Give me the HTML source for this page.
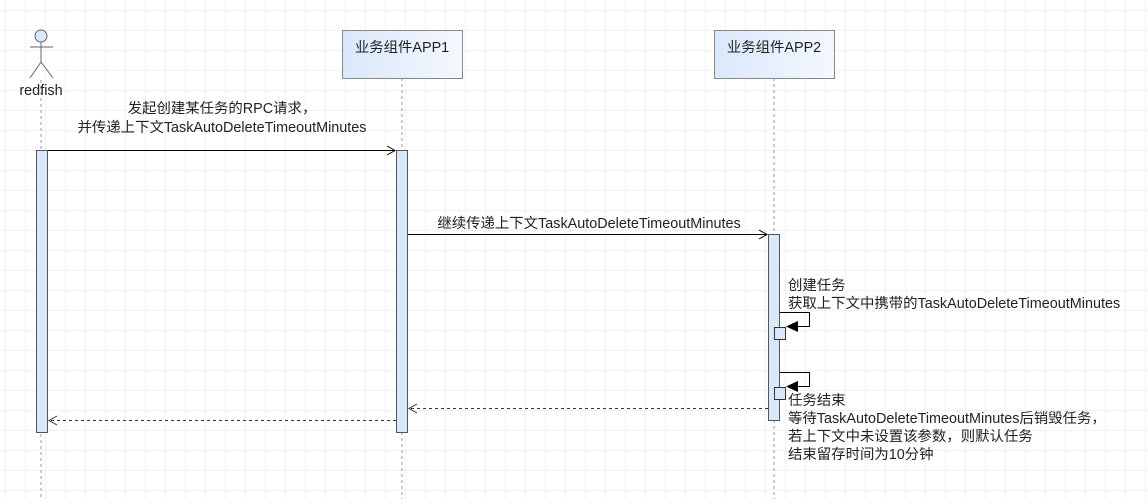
<!DOCTYPE html>
<html><head><meta charset="utf-8"><style>
html,body{margin:0;padding:0;background:#fff}
svg text{font-family:"Liberation Sans","Noto Sans CJK SC",sans-serif;font-size:14.4px;fill:#222}
</style></head><body>
<svg width="1148" height="499" xmlns="http://www.w3.org/2000/svg">
<defs>
<pattern id="g" width="20" height="20" patternUnits="userSpaceOnUse" x="5" y="10">
<path d="M20 0H0V20" fill="none" stroke="#e6e6e6" stroke-width="1"/>
</pattern>
<linearGradient id="bx" x1="0" y1="0" x2="1" y2="0"><stop offset="0" stop-color="#dae8fc"/><stop offset="1" stop-color="#f4f8fe"/></linearGradient>
</defs>
<rect width="1148" height="499" fill="url(#g)"/>
<g stroke="#999" stroke-dasharray="3,3" fill="none">
<line x1="41" y1="80" x2="41" y2="499"/>
<line x1="402" y1="78" x2="402" y2="499"/>
<line x1="774" y1="78" x2="774" y2="499"/>
</g>
<g stroke="#666" fill="none" stroke-width="1">
<circle cx="41" cy="36" r="6" fill="#dae8fc"/>
<line x1="41" y1="42" x2="41" y2="62"/>
<line x1="30" y1="47" x2="53" y2="47"/>
<line x1="41" y1="62" x2="30" y2="78"/>
<line x1="41" y1="62" x2="53" y2="78"/>
</g>
<text x="41" y="95" text-anchor="middle">redfish</text>
<rect x="342.5" y="30.5" width="120" height="48" fill="url(#bx)" stroke="#888"/>
<text x="402" y="52" text-anchor="middle">业务组件APP1</text>
<rect x="714.5" y="30.5" width="120" height="48" fill="url(#bx)" stroke="#888"/>
<text x="774" y="52" text-anchor="middle">业务组件APP2</text>
<g fill="#dae8fc" stroke="#555">
<rect x="36.5" y="150.5" width="11" height="282"/>
<rect x="396.5" y="150.5" width="11" height="282"/>
<rect x="768.5" y="234.5" width="11" height="186"/>
</g>
<text x="222" y="113" text-anchor="middle">发起创建某任务的RPC请求，</text>
<text x="222" y="132" text-anchor="middle">并传递上下文TaskAutoDeleteTimeoutMinutes</text>
<line x1="48" y1="150.5" x2="395" y2="150.5" stroke="#000"/>
<path d="M387 146L395 150.5L387 155" fill="none" stroke="#000"/>
<text x="589" y="228" text-anchor="middle">继续传递上下文TaskAutoDeleteTimeoutMinutes</text>
<line x1="408" y1="234.5" x2="767" y2="234.5" stroke="#000"/>
<path d="M759 230L767 234.5L759 239" fill="none" stroke="#000"/>
<path d="M780 312.5H809.5V326.5H788" fill="none" stroke="#000"/>
<path d="M786 326.5L798 321V332Z" fill="#000"/>
<rect x="774.5" y="327.5" width="11" height="12" fill="#dae8fc" stroke="#333"/>
<text x="788" y="290">创建任务</text>
<text x="788" y="308">获取上下文中携带的TaskAutoDeleteTimeoutMinutes</text>
<path d="M780 372.5H809.5V386.5H788" fill="none" stroke="#000"/>
<path d="M786 386.5L798 381V392Z" fill="#000"/>
<rect x="774.5" y="387.5" width="11" height="12" fill="#dae8fc" stroke="#333"/>
<text x="788" y="405">任务结束</text>
<text x="788" y="423">等待TaskAutoDeleteTimeoutMinutes后销毁任务，</text>
<text x="788" y="441">若上下文中未设置该参数，则默认任务</text>
<text x="788" y="459">结束留存时间为10分钟</text>
<line x1="768" y1="408.5" x2="409" y2="408.5" stroke="#333" stroke-dasharray="3,3"/>
<path d="M417 404L409 408.5L417 413" fill="none" stroke="#333"/>
<line x1="396" y1="420.5" x2="49" y2="420.5" stroke="#333" stroke-dasharray="3,3"/>
<path d="M57 416L49 420.5L57 425" fill="none" stroke="#333"/>
</svg>
</body></html>
